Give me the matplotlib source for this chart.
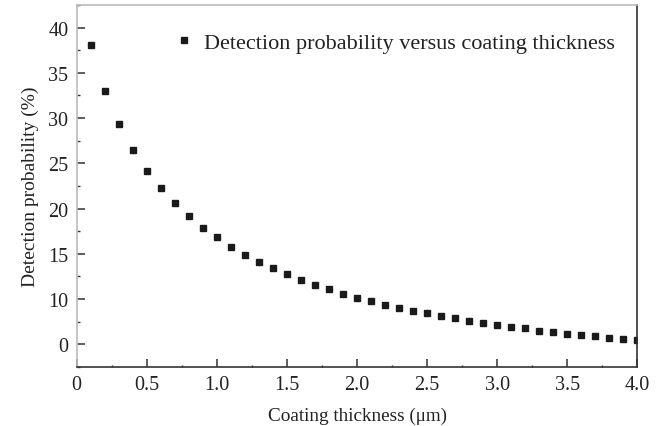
import matplotlib
matplotlib.use("Agg")
import matplotlib.pyplot as plt
import numpy as np
from matplotlib.ticker import MultipleLocator

plt.rcParams['font.family'] = ['Liberation Serif', 'DejaVu Serif']

thickness = [0.1, 0.2, 0.3, 0.4, 0.5, 0.6, 0.7, 0.8, 0.9, 1.0,
             1.1, 1.2, 1.3, 1.4, 1.5, 1.6, 1.7, 1.8, 1.9, 2.0,
             2.1, 2.2, 2.3, 2.4, 2.5, 2.6, 2.7, 2.8, 2.9, 3.0,
             3.1, 3.2, 3.3, 3.4, 3.5, 3.6, 3.7, 3.8, 3.9, 4.0]
probability = [38.05, 32.97, 29.32, 26.45, 24.13, 22.26, 20.60, 19.17, 17.87, 16.81,
               15.78, 14.89, 14.09, 13.39, 12.73, 12.10, 11.58, 11.07, 10.55, 10.15,
               9.81, 9.37, 9.01, 8.71, 8.42, 8.09, 7.87, 7.57, 7.35, 7.13,
               6.94, 6.77, 6.50, 6.33, 6.14, 5.99, 5.88, 5.73, 5.55, 5.44]

x_ticks = [0, 0.5, 1.0, 1.5, 2.0, 2.5, 3.0, 3.5, 4.0]
x_ticklabels = ['0', '0.5', '1.0', '1.5', '2.0', '2.5', '3.0', '3.5', '4.0']
y_ticks = [5, 10, 15, 20, 25, 30, 35, 40]
y_ticklabels = ['0', '10', '15', '20', '25', '30', '35', '40']

fig = plt.figure(figsize=(6.62, 4.27), dpi=100)
ax = fig.add_axes([0.1159, 0.1382, 0.8468, 0.8478])

ax.plot(thickness, probability, linestyle='none', marker='s', markersize=4.2,
        color='#1a1a1a', label='Detection probability versus coating thickness')

ax.set_xlim(0, 4.0)
ax.set_ylim(2.5, 42.5)
ax.set_xticks(x_ticks)
ax.set_xticklabels(x_ticklabels)
ax.set_yticks(y_ticks)
ax.set_yticklabels(y_ticklabels)
ax.xaxis.set_minor_locator(MultipleLocator(0.25))
ax.yaxis.set_minor_locator(MultipleLocator(2.5))

ax.tick_params(axis='both', which='major', direction='in', length=5.5, width=1.1,
               color='#333333', labelsize=14.5, labelcolor='#222222', pad=6)
ax.tick_params(axis='both', which='minor', direction='in', length=2.5, width=1.0,
               color='#333333')
ax.tick_params(axis='x', which='minor', length=1.5)
ax.tick_params(top=False, right=False, which='both')

for side in ['left', 'top']:
    ax.spines[side].set_color('#bbbbbb')
    ax.spines[side].set_linewidth(1.2)
for side in ['right', 'bottom']:
    ax.spines[side].set_color('#333333')
    ax.spines[side].set_linewidth(1.2)

ax.set_xlabel('Coating thickness (μm)', fontsize=13.8, color='#222222', labelpad=9)
ax.set_ylabel('Detection probability (%)', fontsize=14, color='#222222', labelpad=7)

ax.legend(loc='upper left', bbox_to_anchor=(0.138, 0.98), frameon=False, fontsize=16,
          handletextpad=0.45, handlelength=0.9, labelcolor='#222222', markerscale=1.1)

fig.savefig('out.png', dpi=100)
